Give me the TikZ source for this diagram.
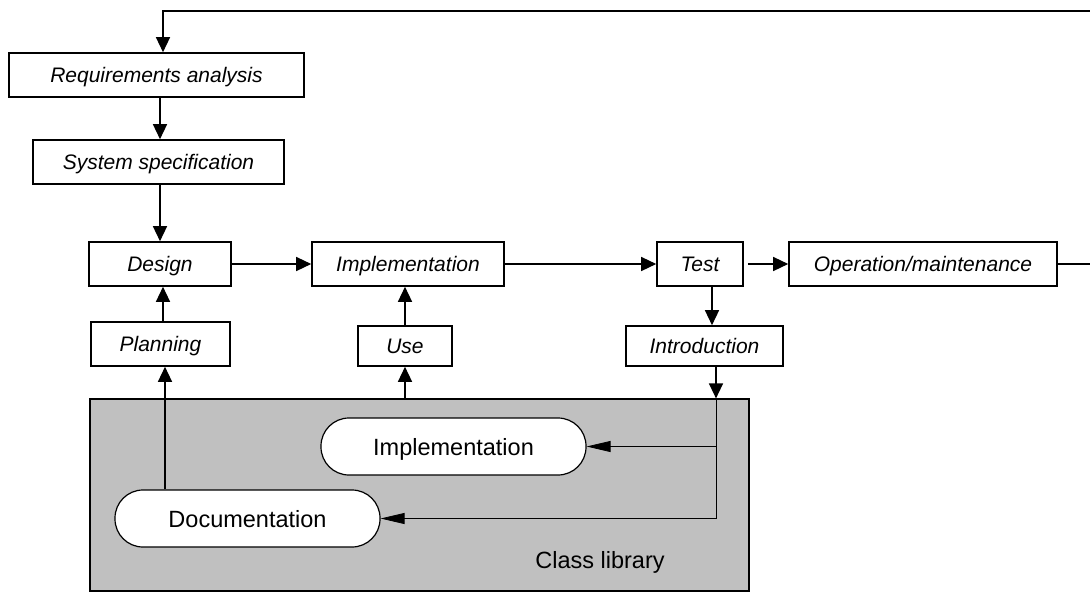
\documentclass[tikz,border=0pt]{standalone}
\usepackage{fontspec}
\setmainfont{Liberation Sans}
\usetikzlibrary{arrows.meta, positioning, calc}
\definecolor{LibGray}{RGB}{192,192,192}

\begin{document}
\begin{tikzpicture}[x=1pt, y=-1pt,
        stage/.style={draw, line width=1.6pt, fill=white, inner sep=0pt, text depth=0pt,
            font=\fontsize{21}{25}\selectfont\itshape},
        libpart/.style={draw, line width=1.2pt, fill=white, inner sep=0pt, text depth=0pt,
            minimum width=265pt, minimum height=57pt, rounded corners=28pt,
            font=\fontsize{23.5}{28}\selectfont},
        arr/.style={line width=1.4pt, -{Triangle[length=15pt,width=14pt]}},
        thinarr/.style={line width=0.8pt, -{Triangle[length=24pt,width=11pt]}}]
        \useasboundingbox (0,0) rectangle (1090,592);

        % class library area
        \node[draw, line width=1.2pt, fill=LibGray, minimum width=659pt, minimum height=192pt, inner sep=0pt] (lib) at (419.5,495) {};
        \node[font=\fontsize{23.5}{28}\selectfont] (libname) at (600,562) {Class library};
        \node[libpart] (implLib) at (453.5,446.5) {Implementation};
        \node[libpart] (docLib) at (247.5,518.5) {Documentation};

        % process stages
        \node[stage, minimum width=295pt, minimum height=44pt] (req) at (156.5,75) {Requirements analysis};
        \node[stage, minimum width=251pt, minimum height=44pt] (spec) at (158.5,162) {System specification};
        \node[stage, minimum width=142pt, minimum height=44pt] (design) at (160,264) {Design};
        \node[stage, minimum width=192pt, minimum height=44pt] (impl) at (408,264) {Implementation};
        \node[stage, minimum width=86pt, minimum height=44pt] (test) at (700,264) {Test};
        \node[stage, minimum width=268pt, minimum height=44pt] (oper) at (923,264) {Operation/maintenance};
        \node[stage, minimum width=139pt, minimum height=44pt] (plan) at (160.5,344) {Planning};
        \node[stage, minimum width=94pt, minimum height=40pt] (use) at (405,346) {Use};
        \node[stage, minimum width=157pt, minimum height=40pt] (intro) at (704.5,346) {Introduction};

        \coordinate (topR) at (1090,11);
        \coordinate (topL) at (163,11);
        \coordinate (operR) at (1090,264);
        \coordinate (busX) at (716,0);

        % main flow
        \draw[line width=1.4pt] (oper.east) -- (operR);
        \draw[arr] (topR) -- (topL) -- (topL |- req.north);
        \draw[arr] ([xshift=3.5]req.south) -- ([xshift=3.5]req.south |- spec.north);
        \draw[arr] (spec.south -| design.north) -- (design.north);
        \draw[arr] (design.east) -- (impl.west);
        \draw[arr] (impl.east) -- (test.west);
        \draw[arr] ([xshift=4]test.east) -- (oper.west);
        \draw[arr] ([xshift=12]test.south) -- ([xshift=12]test.south |- intro.north);

        % library links
        \draw[arr] (busX |- intro.south) -- (busX |- lib.north);
        \draw[line width=0.9pt] (busX |- lib.north) -- (busX |- docLib.east);
        \draw[thinarr] (busX |- implLib.east) -- (implLib.east);
        \draw[thinarr] (busX |- docLib.east) -- (docLib.east);
        \draw[arr] ([xshift=4.5]plan.south |- docLib.north) -- ([xshift=4.5]plan.south);
        \draw[arr] ([xshift=2.5]plan.north) -- ([xshift=2.5]plan.north |- design.south);
        \draw[arr] (use.south |- lib.north) -- (use.south);
        \draw[arr] (use.north) -- (use.north |- impl.south);
    \end{tikzpicture}
\end{document}
